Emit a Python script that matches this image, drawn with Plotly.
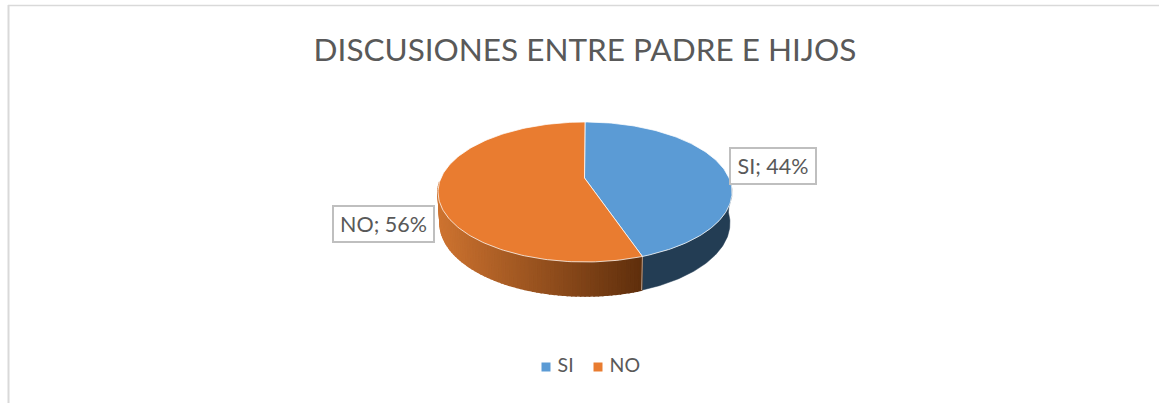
import numpy as np
import plotly.graph_objects as go

# ---- data ----
title = "DISCUSIONES ENTRE PADRE E HIJOS"
labels = ["SI", "NO"]
values = [44, 56]

# ---- style / geometry (pixel space of the page) ----
W, H = 1159, 403
top_c = "#5B9BD5", "#E97C30"
FONT = "Lato"
TXT = "#595959"
CX, CY, RX, RY = 585, 192, 147, 70
BCX, BCY, BRX, BRY = 585, 223, 145, 73
APEX = (584.5, 178)
WARP = -0.066


def warp(t):
    return t + WARP * np.sin(t)


def top_pt(t):
    t = warp(t)
    return CX + RX * np.sin(t), CY - RY * np.cos(t)


def bot_pt(t):
    t = warp(t)
    return BCX + BRX * np.sin(t), BCY - BRY * np.cos(t)


def mix(a, b, f):
    c = [round(a[i] + (b[i] - a[i]) * f) for i in range(3)]
    return f"rgb({c[0]},{c[1]},{c[2]})"


fracs = np.array(values, dtype=float) / sum(values)
edges = np.concatenate([[0], np.cumsum(fracs)]) * 2 * np.pi
RIM_START = np.pi / 2 - 0.08
RIM_END = 3 * np.pi / 2 + 0.08

fig = go.Figure()

# side wall of the first slice: one flat polygon
ts = np.linspace(RIM_START, edges[1], 80)
tx, ty = top_pt(ts)
bx, by = bot_pt(ts)
fig.add_trace(go.Scatter(x=list(tx) + list(bx[::-1]) + [tx[0]],
                         y=list(ty) + list(by[::-1]) + [ty[0]],
                         mode="lines", fill="toself", fillcolor="#233D54",
                         line=dict(color="#233D54", width=0.5),
                         hoverinfo="skip", showlegend=False))

# side wall of the second slice: narrow quads shading left-to-right
front = np.linspace(edges[1], RIM_END, 71)
for a, b in zip(front[:-1], front[1:]):
    x0, y0 = top_pt(a)
    x1, y1 = top_pt(b)
    x2, y2 = bot_pt(b)
    x3, y3 = bot_pt(a)
    f = np.clip(((x0 + x1) / 2 - 438) / (643 - 438), 0, 1)
    col = mix((205, 115, 48), (94, 46, 12), f)
    fig.add_trace(go.Scatter(x=[x0, x1, x2, x3, x0], y=[y0, y1, y2, y3, y0],
                             mode="lines", fill="toself", fillcolor=col,
                             line=dict(color=col, width=1.5),
                             hoverinfo="skip", showlegend=False))

# light seam between the two side walls
sx0, sy0 = top_pt(edges[1])
sx1, sy1 = bot_pt(edges[1])
fig.add_trace(go.Scatter(x=[sx0, sx1], y=[sy0, sy1], mode="lines",
                         line=dict(color="rgba(255,255,255,0.55)", width=1),
                         hoverinfo="skip", showlegend=False))

# top face slices
for i, lab in enumerate(labels):
    ts = np.linspace(edges[i], edges[i + 1], 160)
    px, py = top_pt(ts)
    xs = [APEX[0]] + list(px) + [APEX[0]]
    ys = [APEX[1]] + list(py) + [APEX[1]]
    fig.add_trace(go.Scatter(x=xs, y=ys, mode="lines", fill="toself",
                             fillcolor=top_c[i],
                             line=dict(color="rgba(255,255,255,0.75)", width=1),
                             name=lab, hoverinfo="name", showlegend=False))

# legend, placed by hand so that the swatch sits close to its text
legend_x = [546, 598]
for i, lab in enumerate(labels):
    fig.add_trace(go.Scatter(x=[legend_x[i]], y=[367], mode="markers+text", name=lab,
                             text=[" " + lab], textposition="middle right",
                             textfont=dict(family=FONT, size=19.5, color=TXT),
                             marker=dict(symbol="square", size=9, color=top_c[i]),
                             hoverinfo="skip", showlegend=False))

# data labels
label_pos = [(772.8, 166), (383, 224)]
label_w = [84, 99]
annotations = [
    dict(x=label_pos[i][0], y=label_pos[i][1], xref="x", yref="y",
         text=f"{lab}; {round(fracs[i] * 100)}%", showarrow=False,
         width=label_w[i], height=34, align="center", valign="middle",
         font=dict(family=FONT, size=21.5, color=TXT),
         bgcolor="white", bordercolor="#BFBFBF", borderwidth=2, borderpad=0)
    for i, lab in enumerate(labels)
]

shapes = [
    dict(type="line", xref="x", yref="y", x0=8, x1=W, y0=5.5, y1=5.5,
         line=dict(color="#D9D9D9", width=1.5)),
    dict(type="line", xref="x", yref="y", x0=8.5, x1=8.5, y0=5, y1=H,
         line=dict(color="#D9D9D9", width=2)),
]

fig.update_layout(
    width=W, height=H, autosize=False,
    margin=dict(l=0, r=0, t=0, b=0),
    paper_bgcolor="white", plot_bgcolor="white",
    showlegend=False,
    title=dict(text=title, x=585 / W, xanchor="center", y=1 - 50 / H, yanchor="middle",
               font=dict(family=FONT, size=31.5, color=TXT)),
    xaxis=dict(range=[0, W], visible=False, fixedrange=True),
    yaxis=dict(range=[H, 0], visible=False, fixedrange=True),
    annotations=annotations,
    shapes=shapes,
)

fig.write_html("out.html", config={"displayModeBar": False},
               post_script="document.body.style.margin='0';"
                           "document.documentElement.style.overflow='hidden';")
